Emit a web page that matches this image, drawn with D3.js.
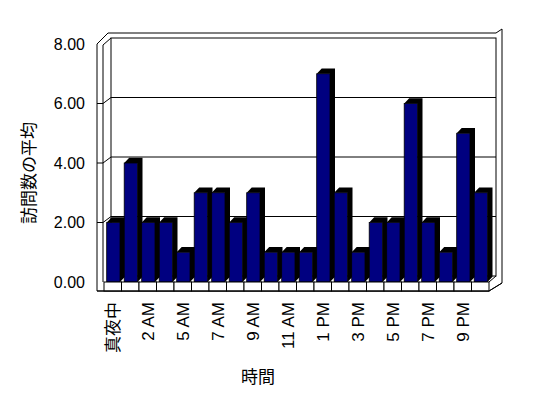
<!DOCTYPE html>
<html lang="ja">
  <head>
    <meta charset="UTF-8" />
    <title>訪問数の平均</title>
    <script src="https://cdn.jsdelivr.net/npm/d3@7"></script>
    <style>
      body { margin: 0; background: #fff; }
      text { font-family: "Liberation Sans", "Noto Sans CJK JP", sans-serif; fill: #000; }
    </style>
  </head>
  <body>
    <div id="container"></div>
    <script>
      // data
      const hours = ['真夜中', '1 AM', '2 AM', '3 AM', '5 AM', '6 AM', '7 AM', '8 AM', '9 AM', '10 AM', '11 AM',
        '12 PM', '1 PM', '2 PM', '3 PM', '4 PM', '5 PM', '6 PM', '7 PM', '8 PM', '9 PM', '10 PM']
      const visits = [2, 4, 2, 2, 1, 3, 3, 2, 3, 1, 1, 1, 7, 3, 1, 2, 2, 6, 2, 1, 5, 3]
      const yTicks = [0, 2, 4, 6, 8]

      const width = 548
      const height = 398
      // front plane of the box
      const left = 104
      const right = 489
      const wallOuter = 97
      const floorBottom = 291
      // depth offsets
      const wall = { dx: 7, dy: -6 }
      const bar = { dx: 5, dy: -5.3 }

      const x = d3.scaleBand().domain(hours).range([left, right])
      const y = d3.scaleLinear().domain([0, 8]).range([282, 44])

      const svg = d3.create('svg')
        .attr('width', width)
        .attr('height', height)
        .attr('viewBox', [0, 0, width, height])

      const frame = svg.append('g')
        .attr('fill', 'none')
        .attr('stroke', '#000')
        .attr('stroke-width', 1)

      // outer outline of walls and floor
      frame.append('path')
        .attr('d', `M${wallOuter},${floorBottom} L${wallOuter},${y(8)} L${left + 4},${y(8) + 2 * wall.dy + 1}
          L${right + wall.dx},${y(8) + 2 * wall.dy + 1} L${right + 2 * wall.dx - 1},${y(8) + 2 * wall.dy - 3}
          L${right + 2 * wall.dx - 1},${y(0) + 1} L${right},${floorBottom} Z`)
        .attr('fill', '#fff')

      // back wall face
      frame.append('rect')
        .attr('x', left + wall.dx)
        .attr('y', y(8) + wall.dy)
        .attr('width', right - left)
        .attr('height', y(0) - y(8))
        .attr('fill', '#fff')

      // left wall inner edge
      frame.append('path')
        .attr('d', `M${left - 1},${y(0)} L${left - 1},${y(8) + 1} L${left + wall.dx},${y(8) + wall.dy}`)

      // right side edge
      frame.append('path')
        .attr('d', `M${right},${y(0)} L${right + wall.dx},${y(0) + wall.dy}`)

      // gridlines on left wall and back wall
      frame.selectAll('.grid')
        .data(yTicks.filter(d => d > 0 && d < 8))
        .join('path')
        .attr('class', 'grid')
        .attr('d', d => `M${wallOuter},${y(d)} L${left - 1},${y(d)} L${left + wall.dx},${y(d) + wall.dy} L${right + wall.dx},${y(d) + wall.dy}`)

      // bars: dark top and side, navy front
      const bars = svg.append('g').selectAll('g')
        .data(hours.map((h, i) => ({ h, v: visits[i] })))
        .join('g')

      bars.append('path')
        .attr('fill', '#000')
        .attr('d', d => {
          const x0 = x(d.h) + 2.7
          const x1 = x0 + 13.3
          const y0 = y(d.v)
          const y1 = y(0)
          return `M${x0},${y0} L${x0 + bar.dx},${y0 + bar.dy} L${x1 + bar.dx},${y0 + bar.dy} L${x1 + bar.dx},${y1 + bar.dy} L${x1},${y1} L${x1},${y0} Z`
        })

      bars.append('rect')
        .attr('x', d => x(d.h) + 2.7)
        .attr('y', d => y(d.v))
        .attr('width', 13.3)
        .attr('height', d => y(0) - y(d.v))
        .attr('fill', '#000080')
        .attr('stroke', '#000')
        .attr('stroke-width', 0.8)

      // floor front face with cells
      const floor = svg.append('g')
        .attr('fill', '#fff')
        .attr('stroke', '#000')
      floor.selectAll('rect')
        .data(hours)
        .join('rect')
        .attr('x', d => x(d))
        .attr('y', y(0))
        .attr('width', x.bandwidth())
        .attr('height', floorBottom - y(0))
      floor.append('line')
        .attr('x1', wallOuter).attr('x2', right)
        .attr('y1', floorBottom).attr('y2', floorBottom)
      floor.append('path')
        .attr('fill', 'none')
        .attr('d', `M${right},${floorBottom} L${right + 2 * wall.dx - 1},${y(0) + 1}`)

      // y axis labels
      svg.append('g')
        .attr('transform', `translate(${wallOuter}, 0)`)
        .call(d3.axisLeft(y).tickValues(yTicks).tickFormat(d3.format('.2f')).tickSize(0).tickPadding(12))
        .call(g => g.select('.domain').remove())
        .selectAll('text')
        .attr('font-size', 16)
        .attr('font-family', null)
        .attr('fill', '#000')

      // x axis labels, every other hour
      svg.append('g')
        .selectAll('text')
        .data(hours.filter((d, i) => i % 2 === 0))
        .join('text')
        .attr('transform', d => `translate(${x(d) + x.bandwidth() / 2 + 1}, 302) rotate(-90)`)
        .attr('text-anchor', 'end')
        .attr('dominant-baseline', 'central')
        .attr('font-size', 17)
        .attr('fill', '#000')
        .text(d => d)

      // axis titles
      svg.append('text')
        .attr('transform', 'translate(29, 173) rotate(-90)')
        .attr('text-anchor', 'middle')
        .attr('dominant-baseline', 'central')
        .attr('font-size', 17)
        .text('訪問数の平均')

      svg.append('text')
        .attr('x', 258)
        .attr('y', 377)
        .attr('text-anchor', 'middle')
        .attr('dominant-baseline', 'central')
        .attr('font-size', 17)
        .text('時間')

      container.append(svg.node())
    </script>
  </body>
</html>
